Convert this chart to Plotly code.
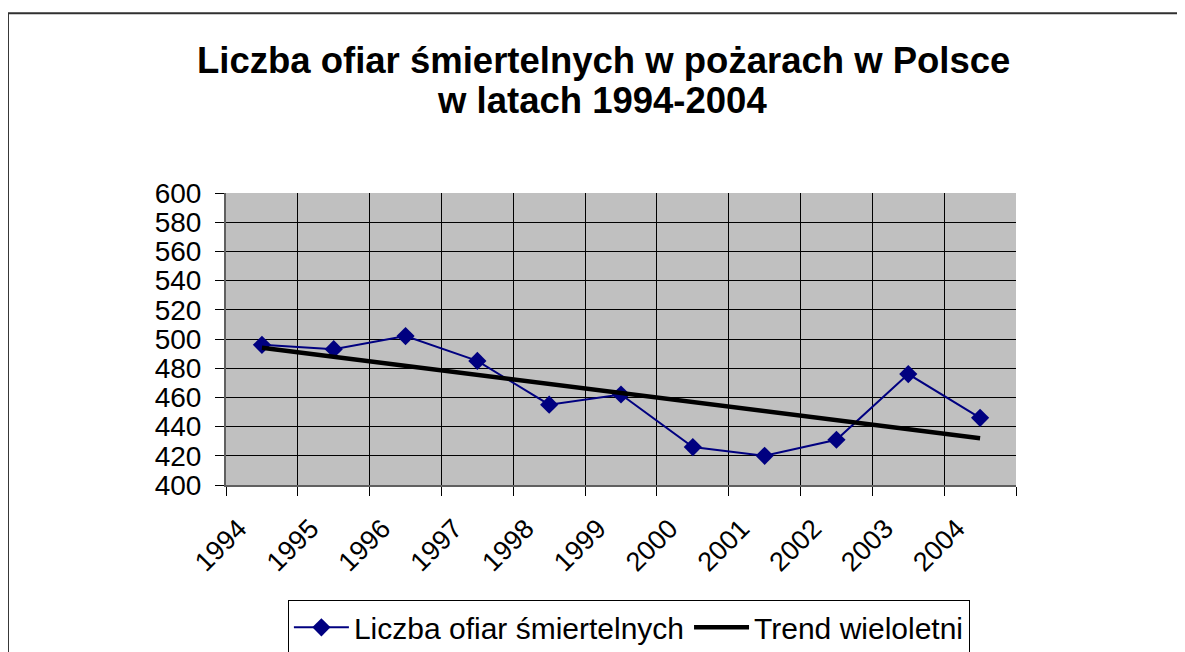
import plotly.graph_objects as go

years = [1994, 1995, 1996, 1997, 1998, 1999, 2000, 2001, 2002, 2003, 2004]
year_labels = ["1994", "1995", "1996", "1997", "1998", "1999", "2000", "2001", "2002", "2003", "2004"]
victims = [496, 493, 502, 485, 455, 462, 426, 420, 431, 476, 446]
trend_years = [1994, 2004]
trend_values = [494, 432]

title_line1 = "Liczba ofiar śmiertelnych w pożarach w Polsce"
title_line2 = "w latach 1994-2004"

FONT = "Liberation Sans, Arial, sans-serif"

fig = go.Figure()
fig.add_trace(go.Scatter(
    x=years, y=victims, mode="lines+markers", name="Liczba ofiar śmiertelnych",
    line=dict(color="#000080", width=2),
    marker=dict(symbol="diamond", size=14, color="#000080"),
))
fig.add_trace(go.Scatter(
    x=trend_years, y=trend_values, mode="lines", name="Trend wieloletni",
    line=dict(color="#000000", width=4.5),
))

# category boundaries for ticks/gridlines; labels slightly offset like the original
boundaries = [y - 0.5 for y in years] + [years[-1] + 0.5]
label_pos = [y - 0.32 for y in years]

fig.update_layout(
    width=1185, height=652,
    margin=dict(l=218, r=177, t=185, b=175, autoexpand=False),
    paper_bgcolor="white", plot_bgcolor="#C0C0C0",
    font=dict(family=FONT, color="black"),
    showlegend=True,
    legend=dict(
        orientation="h", x=0.51, xanchor="center", y=-0.395, yanchor="top",
        bordercolor="black", borderwidth=1, bgcolor="white",
        font=dict(size=30, family=FONT), itemwidth=55,
    ),
    xaxis=dict(
        range=[years[0] - 0.5, years[-1] + 0.5],
        tickmode="array", tickvals=label_pos, ticktext=year_labels,
        ticks="", showgrid=False, zeroline=False,
        showline=True, linecolor="#606060", linewidth=2, tickangle=-45,
        tickfont=dict(size=27, family=FONT), ticklabelstandoff=15,
        automargin=False,
        minor=dict(tickmode="array", tickvals=boundaries, ticks="outside", ticklen=9,
                   tickcolor="black", showgrid=True, gridcolor="black", gridwidth=1),
    ),
    yaxis=dict(
        range=[400, 600], dtick=20, ticks="outside", ticklen=9, tickcolor="black",
        showgrid=True, gridcolor="black", gridwidth=1,
        showline=True, linecolor="#606060", linewidth=2,
        tickfont=dict(size=28, family=FONT), ticklabelstandoff=8,
        zeroline=False, automargin=False,
    ),
    annotations=[
        dict(text="<b>" + title_line1 + "</b>", xref="paper", yref="paper",
             x=0.478, y=1.455, xanchor="center", yanchor="middle", showarrow=False,
             font=dict(size=36.5, family=FONT)),
        dict(text="<b>" + title_line2 + "</b>", xref="paper", yref="paper",
             x=0.476, y=1.318, xanchor="center", yanchor="middle", showarrow=False,
             font=dict(size=36.5, family=FONT)),
    ],
    shapes=[
        dict(type="rect", xref="paper", yref="paper", x0=-0.276, x1=1.3, y0=-0.8, y1=1.616,
             line=dict(color="#303030", width=2), fillcolor="rgba(0,0,0,0)", layer="below"),
    ],
)

fig.write_html("out.html")
